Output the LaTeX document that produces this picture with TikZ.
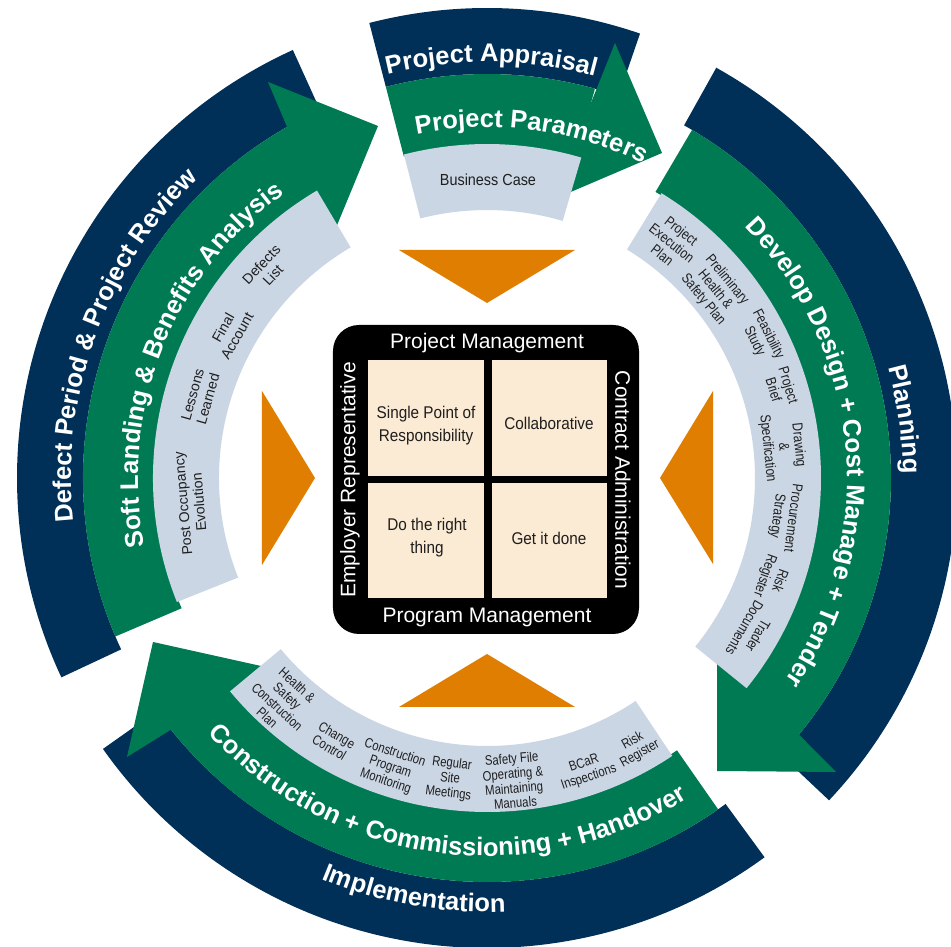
\documentclass[tikz,border=0pt]{standalone}
\usepackage{fontspec}
\setmainfont{Liberation Sans}
\newfontfamily\narrowA[FakeStretch=0.82]{Liberation Sans}
\newfontfamily\narrowB[FakeStretch=0.9]{Liberation Sans}
\usetikzlibrary{decorations.text}
\definecolor{navy}{RGB}{0,48,87}
\definecolor{grn}{RGB}{0,122,83}
\definecolor{lblue}{RGB}{203,214,229}
\definecolor{orng}{RGB}{223,126,0}
\definecolor{beige}{RGB}{251,234,212}
\definecolor{itemtxt}{RGB}{30,30,30}
\newcommand{\annsec}[5]{\fill[#1] (#2:#4) arc[start angle=#2,end angle=#3,radius=#4pt] -- (#3:#5) arc[start angle=#3,end angle=#2,radius=#5pt] -- cycle;}
\newcommand{\ringfont}{\bfseries\fontsize{25.5}{30}\selectfont}
\newcommand{\ringtext}[5]{\path[decorate,decoration={text along path,text color=#1,text align=center,text={#5}}] (#3:#2) arc[start angle=#3,end angle=#4,radius=#2pt];}
\tikzset{
 itemR/.style={font=\narrowA\fontsize{14.5}{15.5}\selectfont, text=itemtxt, align=center, inner sep=0pt},
 itemB/.style={font=\narrowA\fontsize{13.8}{14.8}\selectfont, text=itemtxt, align=center, inner sep=0pt},
 itemL/.style={font=\fontsize{14.2}{16}\selectfont, text=itemtxt, align=center, inner sep=0pt},
 itemT/.style={font=\narrowB\fontsize{16}{18}\selectfont, text=itemtxt, align=center, inner sep=0pt},
 cell/.style={fill=beige, minimum width=116pt, minimum height=116pt, inner sep=0pt},
 celltxt/.style={font=\narrowB\fontsize{17}{23}\selectfont, text=itemtxt, align=center, inner sep=0pt},
 boxtxt/.style={font=\fontsize{21}{24}\selectfont, text=white, inner sep=0pt},
}
\begin{document}
\begin{tikzpicture}[x=1pt,y=1pt]
\clip (-487,-469) rectangle (464,478);
\fill[white] (-487,-469) rectangle (464,478);
% navy outer ring pieces
\annsec{navy}{104.5}{71}{470}{404}
\annsec{navy}{60.8}{-43.3}{470}{404}
\annsec{navy}{-53.8}{-144.8}{470}{404}
\annsec{navy}{205.1}{114.4}{470}{404}
% green bands
\annsec{grn}{104.5}{74.5}{404}{332}
\annsec{grn}{59.5}{-41}{404}{332}
\annsec{grn}{-55.1}{-142}{404}{332}
\annsec{grn}{203.1}{119}{404}{332}
% green arrowheads
\fill[grn] (128,435) -- (175,325) -- (65,278) -- cycle;
\fill[grn] (230,-174) -- (230,-293) -- (349,-294) -- cycle;
\fill[grn] (-217,-190) -- (-334,-164) -- (-360,-279) -- cycle;
\fill[grn] (-219,396) -- (-109,352) -- (-154,243) -- cycle;
% light blue bands
\annsec{lblue}{104.4}{73.6}{334}{268}
\annsec{lblue}{58.5}{-39}{334}{268}
\annsec{lblue}{-56.3}{-140.3}{334}{268}
\annsec{lblue}{201.8}{120.6}{334}{268}
% orange triangles
\fill[orng] (-88,228) -- (88,228) -- (0,175) -- cycle;
\fill[orng] (-88,-229) -- (88,-229) -- (0,-176) -- cycle;
\fill[orng] (-225,87) -- (-225,-87) -- (-172,0) -- cycle;
\fill[orng] (226,87) -- (226,-86) -- (173,0) -- cycle;
% centre box
\node[fill=black, rounded corners=26pt, minimum width=306pt, minimum height=309pt, inner sep=0pt] (box) at (-1,-1.5) {};
\node[cell] (c1) at (-61,60) {};
\node[cell, minimum width=115pt] (c2) at (62.5,60) {};
\node[cell, minimum height=115pt] (c3) at (-61,-62.5) {};
\node[cell, minimum width=115pt, minimum height=115pt] (c4) at (62.5,-62.5) {};
\node[celltxt] (t1) at (-61,52) {Single Point of\\Responsibility};
\node[celltxt] (t2) at (62,55) {Collaborative};
\node[celltxt] (t3) at (-60,-60) {Do the right\\thing};
\node[celltxt] (t4) at (62,-60) {Get it done};
\node[boxtxt] (pm) at (0,135) {Project Management};
\node[boxtxt] (prm) at (0,-139) {Program Management};
\node[boxtxt, rotate=90] (er) at (-137,-2) {Employer Representative};
\node[boxtxt, rotate=-90] (ca) at (136,-2) {Contract Administration};
% ring labels
\ringtext{white}{416}{119.4}{59.4}{|\ringfont|Project Appraisal}
\ringtext{white}{351}{122.6}{42.6}{|\ringfont|Project Parameters}
\ringtext{white}{416}{38}{-22}{|\ringfont|Planning}
\ringtext{white}{360}{55}{-45}{|\ringfont|Develop Design + Cost Manage + Tender}
\ringtext{white}{434}{225}{295}{|\ringfont|Implementation}
\ringtext{white}{378}{197.3}{327.3}{|\ringfont|Construction + Commissioning + Handover}
\ringtext{white}{416}{200}{120}{|\ringfont|Defect Period {\&} Project Review}
\ringtext{white}{349}{203.4}{113.4}{|\ringfont|Soft Landing {\&} Benefits Analysis}
% top item
\node[itemT] (bc) at (1,298) {Business Case};
% right items
\node[itemR, rotate=-38.2] (r1) at (51.8:299) {Project\\Execution\\Plan};
\node[itemR, rotate=-50.5] (r2) at (39.5:295.5) {Preliminary\\Health \&\\Safety Plan};
\node[itemR, rotate=-62.9] (r3) at (27.1:308) {Feasibility\\Study};
\node[itemR, rotate=-72.9] (r4) at (17.1:308) {Project\\Brief};
\node[itemR, rotate=-84] (r5) at (6:297.6) {Drawing\\\&\\Specification};
\node[itemR, rotate=-97.5] (r6) at (-7.5:300) {Procurement\\Strategy};
\node[itemR, rotate=-109.3] (r7) at (-19.3:302) {Risk\\Register};
\node[itemR, rotate=-120.2] (r8) at (-30.2:306) {Trader\\Documents};
% bottom items
\node[itemB, rotate=-42.5] (b1) at (227.5:303) {Health \&\\Safety\\Construction\\Plan};
\node[itemB, rotate=-30.3] (b2) at (239.7:305) {Change\\Control};
\node[itemB, rotate=-18.5] (b3) at (251.5:305) {Construction\\Program\\Monitoring};
\node[itemB, rotate=-7] (b4) at (263:303) {Regular\\Site\\Meetings};
\node[itemB, rotate=5] (b5) at (275:304) {Safety File\\Operating \&\\Maintaining\\Manuals};
\node[itemB, rotate=18.8] (b6) at (288.8:309) {BCaR\\Inspections};
\node[itemB, rotate=29] (b7) at (299:308) {Risk\\Register};
% left items
\node[itemL, rotate=46.6] (l1) at (136.6:302.8) {Defects\\List};
\node[itemL, rotate=60.4] (l2) at (150.4:295.6) {Final\\Account};
\node[itemL, rotate=74.2] (l3) at (164.2:298) {Lessons\\Learned};
\node[itemL, rotate=94.8] (l4) at (184.8:297) {Post Occupancy\\Evolution};
\end{tikzpicture}
\end{document}
